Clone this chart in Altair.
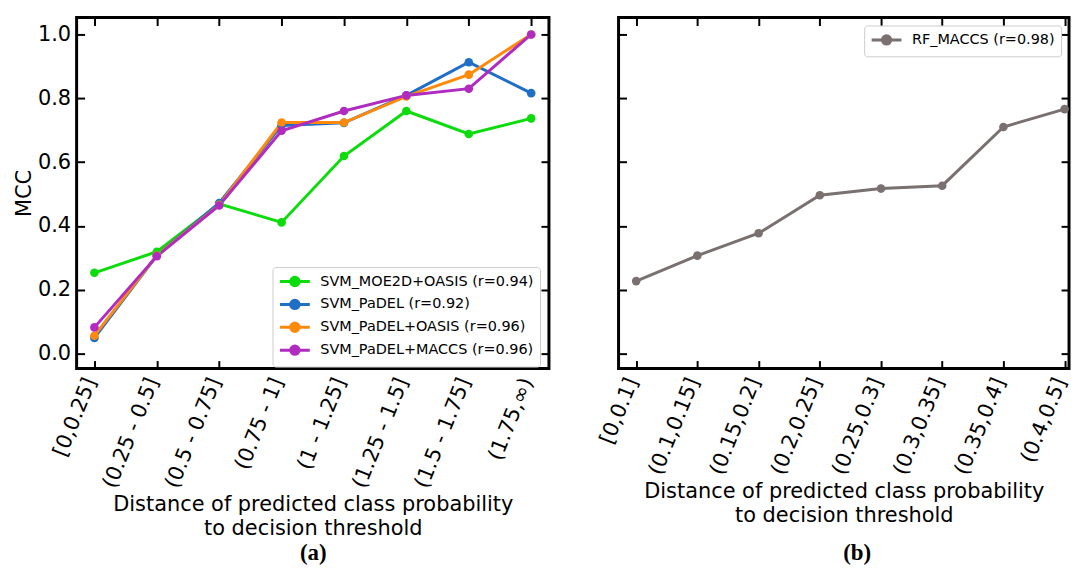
import altair as alt
import pandas as pd

# ---------------- data ----------------
cats_a = ["[0,0.25]", "(0.25 - 0.5]", "(0.5 - 0.75]", "(0.75 - 1]",
          "(1 - 1.25]", "(1.25 - 1.5]", "(1.5 - 1.75]", "(1.75,∞)"]
cats_b = ["[0,0.1]", "(0.1,0.15]", "(0.15,0.2]", "(0.2,0.25]",
          "(0.25,0.3]", "(0.3,0.35]", "(0.35,0.4]", "(0.4,0.5]"]

models_a = ["SVM_MOE2D+OASIS (r=0.94)", "SVM_PaDEL (r=0.92)",
            "SVM_PaDEL+OASIS (r=0.96)", "SVM_PaDEL+MACCS (r=0.96)"]
colors_a = ["#0cdc0c", "#1f6fc6", "#ff8a0a", "#b02cc0"]

moe2d_oasis = [0.253, 0.319, 0.469, 0.411, 0.619, 0.760, 0.688, 0.737]
padel = [0.049, 0.307, 0.472, 0.715, 0.723, 0.809, 0.913, 0.816]
padel_oasis = [0.056, 0.307, 0.466, 0.724, 0.724, 0.806, 0.874, 1.000]
padel_maccs = [0.082, 0.305, 0.464, 0.698, 0.760, 0.809, 0.830, 1.000]

models_b = ["RF_MACCS (r=0.98)"]
colors_b = ["#7a7070"]
rf_maccs = [0.227, 0.307, 0.377, 0.496, 0.517, 0.526, 0.710, 0.766]

y_ticks = [0.0, 0.2, 0.4, 0.6, 0.8, 1.0]

rows = []
for m, vals in zip(models_a, [moe2d_oasis, padel, padel_oasis, padel_maccs]):
    for c, v in zip(cats_a, vals):
        rows.append({"bin": c, "mcc": v, "model": m})
df_a = pd.DataFrame(rows)
df_b = pd.DataFrame({"bin_b": cats_b, "mcc": rf_maccs, "model_b": models_b * len(cats_b)})

FONT = "DejaVu Sans"
TICK = 8
x_title = ["Distance of predicted class probability", "to decision threshold"]
sym_path = "M-1,0L3.286,0M0.543,0A0.6,0.6,0,1,1,1.743,0A0.6,0.6,0,1,1,0.543,0Z"

y_scale = alt.Scale(domain=[-0.047, 1.053], nice=False, zero=False)


def bottom_axis():
    return alt.Axis(orient="bottom", offset=-TICK, tickSize=TICK, tickWidth=2,
                    tickColor="black", domain=False, grid=False,
                    labelAngle=292, labelAlign="right", labelBaseline="middle",
                    labelPadding=10, labelOffset=-4, labelFontSize=21, labelFont=FONT,
                    labelColor="black",
                    title=x_title, titleFontSize=21, titleFont=FONT,
                    titleFontWeight="normal", titleColor="black",
                    titleLineHeight=24, titlePadding=3)


def top_axis():
    return alt.Axis(orient="top", offset=-TICK, tickSize=TICK, tickWidth=2,
                    tickColor="black", domain=False, grid=False, labels=False, title=None)


def left_axis(labels=True):
    if labels:
        return alt.Axis(orient="left", offset=-TICK, tickSize=TICK, tickWidth=2,
                        tickColor="black", domain=False, grid=False, values=y_ticks,
                        format=".1f", labelFontSize=21, labelFont=FONT, labelColor="black",
                        labelPadding=6, title="MCC", titleFontSize=21, titleFont=FONT,
                        titleFontWeight="normal", titleColor="black", titlePadding=3)
    return alt.Axis(orient="left", offset=-TICK, tickSize=TICK, tickWidth=2,
                    tickColor="black", domain=False, grid=False, values=y_ticks,
                    labels=False, title=None)


def right_axis():
    return alt.Axis(orient="right", offset=-TICK, tickSize=TICK, tickWidth=2,
                    tickColor="black", domain=False, grid=False, values=y_ticks,
                    labels=False, title=None)


def legend(**kw):
    return alt.Legend(title=None, fillColor="white",
                      strokeColor="#cccccc", cornerRadius=3, padding=6,
                      symbolType=sym_path, symbolSize=196, symbolStrokeWidth=3,
                      labelFont=FONT, labelFontSize=14.5, labelColor="black",
                      labelLimit=0, labelOffset=25, rowPadding=2, **kw)


leg_a = dict(orient="none", legendX=197, legendY=251)
leg_b = dict(orient="top-right", offset=8)

# ---------------- panel (a) ----------------
sx_a = alt.Scale(type="point", padding=0.285)
col_a = alt.Scale(domain=models_a, range=colors_a)
base_a = alt.Chart(df_a)
line_a = base_a.mark_line(strokeWidth=3).encode(
    x=alt.X("bin:O", sort=cats_a, scale=sx_a, axis=bottom_axis()),
    y=alt.Y("mcc:Q", scale=y_scale, axis=left_axis(True)),
    color=alt.Color("model:N", scale=col_a, sort=models_a, legend=legend(**leg_a)),
)
pts_a = base_a.mark_circle(size=75, opacity=1).encode(
    x=alt.X("bin:O", sort=cats_a, scale=sx_a, axis=top_axis()),
    y=alt.Y("mcc:Q", scale=y_scale, axis=right_axis()),
    color=alt.Color("model:N", scale=col_a, sort=models_a, legend=legend(**leg_a)),
)
lab_a = alt.Chart(pd.DataFrame({"t": ["(a)"]})).mark_text(
    font="Liberation Serif", fontSize=23, fontWeight="bold", color="black",
    align="center", baseline="middle").encode(
    text="t:N", x=alt.value(238), y=alt.value(539))
chart_a = alt.layer(line_a, pts_a, lab_a).resolve_axis(x="independent", y="independent").properties(
    width=475, height=353)

# ---------------- panel (b) ----------------
sx_b = alt.Scale(type="point", padding=0.18, align=0.8)
col_b = alt.Scale(domain=models_b, range=colors_b)
base_b = alt.Chart(df_b)
line_b = base_b.mark_line(strokeWidth=3).encode(
    x=alt.X("bin_b:O", sort=cats_b, scale=sx_b, axis=bottom_axis()),
    y=alt.Y("mcc:Q", scale=y_scale, axis=left_axis(False)),
    color=alt.Color("model_b:N", scale=col_b, legend=legend(**leg_b)),
)
pts_b = base_b.mark_circle(size=75, opacity=1).encode(
    x=alt.X("bin_b:O", sort=cats_b, scale=sx_b, axis=top_axis()),
    y=alt.Y("mcc:Q", scale=y_scale, axis=right_axis()),
    color=alt.Color("model_b:N", scale=col_b, legend=legend(**leg_b)),
)
lab_b = alt.Chart(pd.DataFrame({"t": ["(b)"]})).mark_text(
    font="Liberation Serif", fontSize=23, fontWeight="bold", color="black",
    align="center", baseline="middle").encode(
    text="t:N", x=alt.value(240), y=alt.value(539))
chart_b = alt.layer(line_b, pts_b, lab_b).resolve_axis(x="independent", y="independent").properties(
    width=453, height=353)

chart = alt.hconcat(chart_a, chart_b, spacing=42).resolve_scale(
    x="independent", y="independent", color="independent"
).properties(
    padding={"left": 4, "top": 5, "right": 0, "bottom": 1}
).configure_view(
    stroke="black", strokeWidth=3
)

chart.save("out.html", embed_options={"renderer": "svg", "actions": False})
